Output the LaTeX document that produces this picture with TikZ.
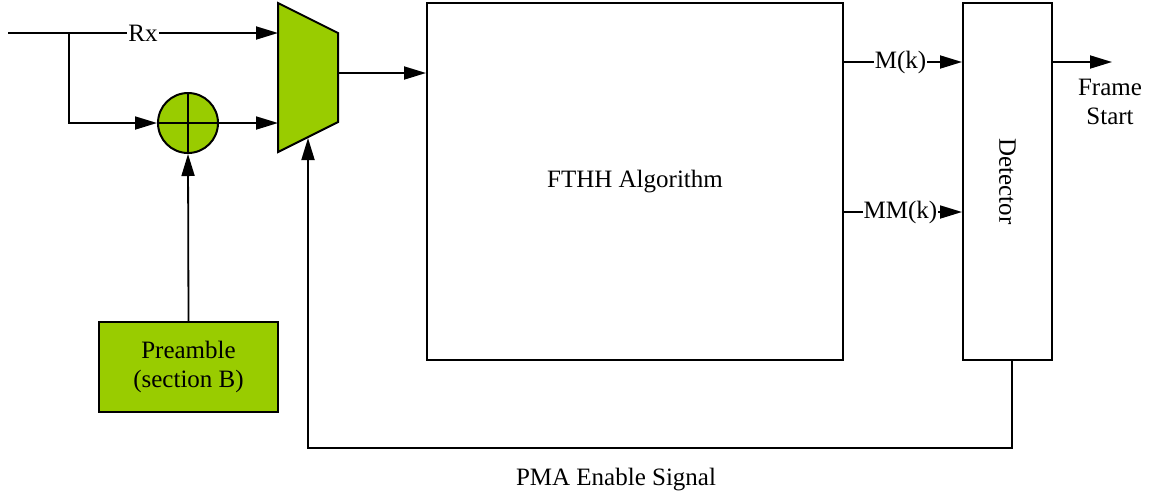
\documentclass[tikz,border=0pt]{standalone}
\usepackage{fontspec}
\setmainfont{Liberation Serif}
\usetikzlibrary{arrows.meta}
\definecolor{blockgreen}{RGB}{153,204,0}
\begin{document}
\begin{tikzpicture}[x=1pt,y=-1pt,
  wire/.style={line width=1.8pt},
  sig/.style={wire,-{Triangle[length=22pt,width=13pt]}},
  blk/.style={draw,line width=2pt,inner sep=0pt},
  lbl/.style={font=\fontsize{25}{29}\selectfont},
  tag/.style={lbl,fill=white,inner sep=1pt}]
\useasboundingbox (0,0) rectangle (1153,499);

% main blocks
\node[blk,lbl,minimum width=416pt,minimum height=357pt] (fthh) at (635,181.5) {FTHH Algorithm};
\node[blk,minimum width=89pt,minimum height=357pt] (det) at (1007.5,181.5) {};
\node[lbl,rotate=-90] (dettxt) at (det.center) {Detector};
\node[blk,lbl,fill=blockgreen,minimum width=179pt,minimum height=90pt,align=center] (pre) at (188.5,367) {Preamble\\(section B)};

% adder
\node[blk,circle,fill=blockgreen,minimum size=60pt] (add) at (188,123) {};
\draw[wire] (add.north) -- (add.south) (add.west) -- (add.east);

% multiplexer
\draw[line width=2pt,fill=blockgreen] (278,3) -- (338,33) -- (338,122) -- (278,152) -- cycle;
\coordinate (muxA) at (278,33);
\coordinate (muxB) at (278,123);
\coordinate (muxO) at (338,73);
\coordinate (muxS) at (308,138);

% signal points
\coordinate (in) at (8,33);
\coordinate (br) at (69,33);
\coordinate (mk) at (843,62);
\coordinate (mmk) at (843,212);
\coordinate (fs) at (1112,62);
\coordinate (fb) at (1012,448);

% connectors
\draw[sig] (in) -- node[tag] {Rx} (muxA);
\draw[sig] (br) |- (add.west);
\draw[sig] (add.east) -- (muxB);
\draw[sig] (pre.north) -- (add.south);
\draw[sig] (muxO) -- (fthh.west |- muxO);
\draw[sig] (mk) -- node[tag,xshift=-2pt] {M(k)} (det.west |- mk);
\draw[sig] (mmk) -- node[tag,xshift=-2pt] {MM(k)} (det.west |- mmk);
\draw[sig] (det.east |- fs) -- (fs);
\node[lbl,align=center] (fstxt) at (1110,102) {Frame\\Start};
\draw[sig] (det.south -| fb) -- (fb) -| (muxS);
\node[lbl] (pma) at (616,480) {PMA Enable Signal};
\end{tikzpicture}
\end{document}
